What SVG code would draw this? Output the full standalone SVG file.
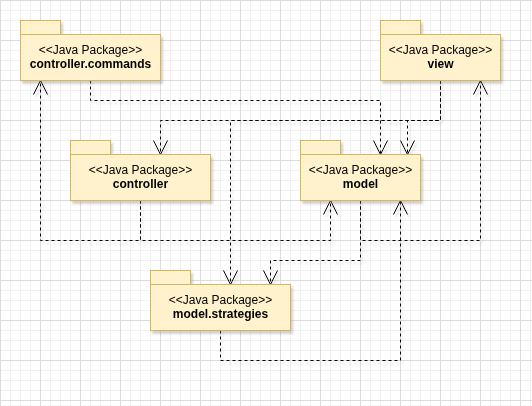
<svg xmlns="http://www.w3.org/2000/svg" width="532" height="406" viewBox="0 0 532 406">
<style>
.pkg rect { fill: #fff2cc; stroke: #d6b656; stroke-width: 1; }
.stereo { font-family: "Liberation Sans", Arial, sans-serif; font-size: 12px; text-anchor: middle; fill: #000; }
.name { font-family: "Liberation Sans", Arial, sans-serif; font-size: 12px; font-weight: bold; text-anchor: middle; fill: #000; }
.edge { fill: none; stroke: #000; stroke-width: 1; stroke-dasharray: 3 3; marker-end: url(#open); }
</style>
<defs>
<pattern id="minor" width="10" height="10" patternUnits="userSpaceOnUse">
<path d="M 0.5 0 V 10 M 0 0.5 H 10" fill="none" stroke="#f1f1f1" stroke-width="1"/>
</pattern>
<pattern id="major" width="40" height="40" patternUnits="userSpaceOnUse">
<rect width="40" height="40" fill="url(#minor)"/>
<path d="M 0.5 0 V 40 M 0 0.5 H 40" fill="none" stroke="#dcdcdc" stroke-width="1"/>
</pattern>
<marker id="open" markerUnits="userSpaceOnUse" markerWidth="18" markerHeight="18" viewBox="-16 -9 18 18" refX="0" refY="0" orient="auto">
<path d="M -14 -7 L 0 0 L -14 7" fill="none" stroke="#000" stroke-width="1" stroke-dasharray="none"/>
</marker>
<filter id="shadow" x="-10%" y="-10%" width="130%" height="140%">
<feDropShadow dx="2" dy="3" stdDeviation="1.2" flood-color="#808080" flood-opacity="0.35"/>
</filter>
</defs>
<rect width="532" height="406" fill="#ffffff"/>
<rect width="532" height="406" fill="url(#major)"/>
<g transform="translate(0.5,0.5)">
<g id="connectors" filter="url(#shadow)">
<path class="edge" d="M 90 80 V 100 H 380 V 154"/>
<path class="edge" d="M 440 80 V 120 H 160 V 154"/>
<path class="edge" d="M 440 80 V 120 H 407 V 154"/>
<path class="edge" d="M 440 80 V 120 H 230 V 284"/>
<path class="edge" d="M 140 200 V 240 H 40 V 80"/>
<path class="edge" d="M 140 200 V 240 H 330 V 200"/>
<path class="edge" d="M 360 200 V 240 H 480 V 80"/>
<path class="edge" d="M 360 200 V 260 H 270 V 284"/>
<path class="edge" d="M 220 330 V 360 H 400 V 200"/>
</g>
<g id="controller.commands" class="pkg" filter="url(#shadow)">
<rect x="20" y="20" width="40" height="14"/>
<rect x="20" y="34" width="140" height="46"/>
<text class="stereo" x="90" y="53.5">&lt;&lt;Java Package&gt;&gt;</text>
<text class="name" x="90" y="67">controller.commands</text>
</g>
<g id="view" class="pkg" filter="url(#shadow)">
<rect x="380" y="20" width="40" height="14"/>
<rect x="380" y="34" width="120" height="46"/>
<text class="stereo" x="440" y="53.5">&lt;&lt;Java Package&gt;&gt;</text>
<text class="name" x="440" y="67">view</text>
</g>
<g id="controller" class="pkg" filter="url(#shadow)">
<rect x="70" y="140" width="40" height="14"/>
<rect x="70" y="154" width="140" height="46"/>
<text class="stereo" x="140" y="173.5">&lt;&lt;Java Package&gt;&gt;</text>
<text class="name" x="140" y="187">controller</text>
</g>
<g id="model" class="pkg" filter="url(#shadow)">
<rect x="300" y="140" width="40" height="14"/>
<rect x="300" y="154" width="120" height="46"/>
<text class="stereo" x="360" y="173.5">&lt;&lt;Java Package&gt;&gt;</text>
<text class="name" x="360" y="187">model</text>
</g>
<g id="model.strategies" class="pkg" filter="url(#shadow)">
<rect x="150" y="270" width="40" height="14"/>
<rect x="150" y="284" width="140" height="46"/>
<text class="stereo" x="220" y="303.5">&lt;&lt;Java Package&gt;&gt;</text>
<text class="name" x="220" y="317">model.strategies</text>
</g>
</g>
</svg>
